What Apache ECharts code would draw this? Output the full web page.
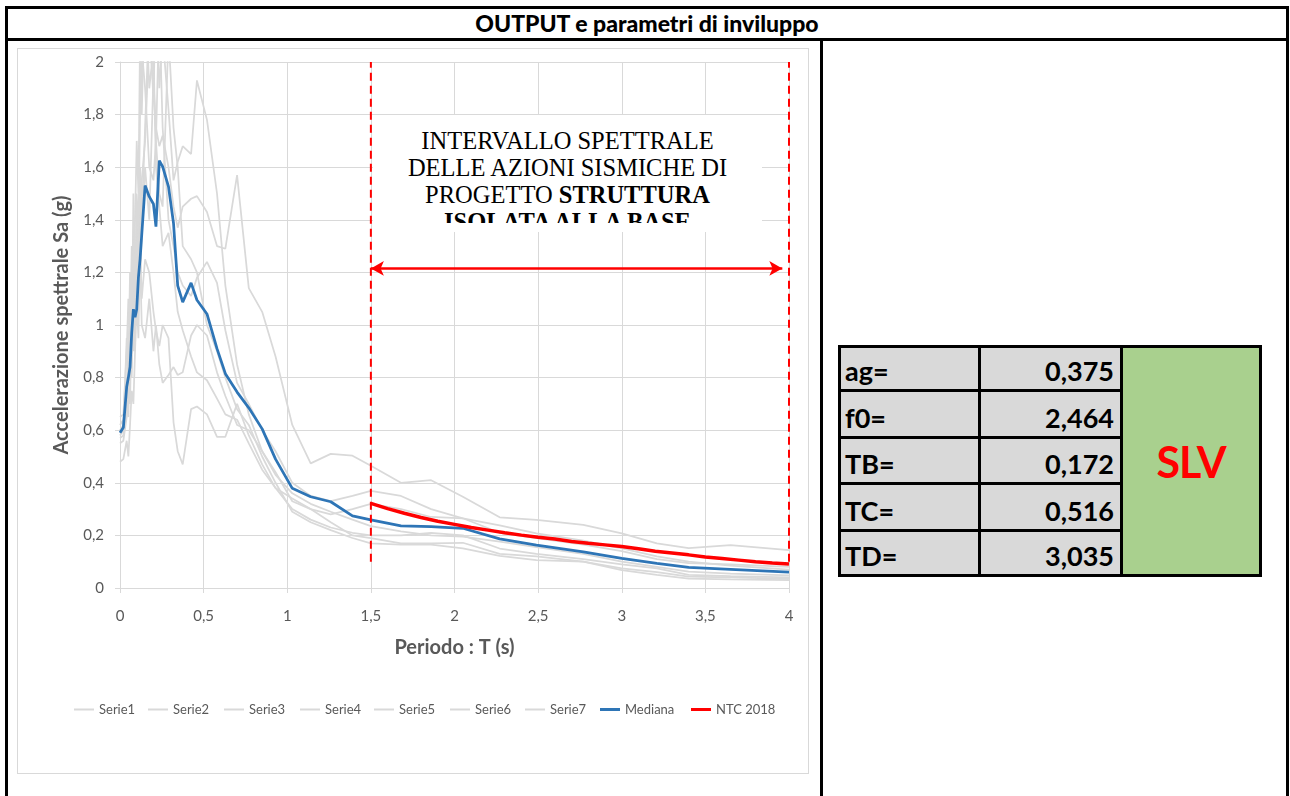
<!DOCTYPE html>
<html>
<head>
<meta charset="utf-8">
<title>OUTPUT e parametri di inviluppo</title>
<script src="https://cdn.jsdelivr.net/npm/echarts@6.0.0/dist/echarts.min.js"></script>
<style>
  html, body { margin:0; padding:0; background:#ffffff; }
  body { position:relative; width:1290px; height:796px; overflow:hidden; font-family: Lato, "Noto Sans", sans-serif; }
  .rule { position:absolute; background:#000; }
  #title { position:absolute; left:8px; top:9px; width:1278px; height:29px; line-height:29px; text-align:center; font-weight:900; font-size:23px; color:#000; }
  #chartFrame { position:absolute; left:17px; top:48px; width:792px; height:726px; border:1px solid #D9D9D9; box-sizing:border-box; }
  #chart { position:absolute; left:0; top:0; width:1290px; height:796px; }
  #note { position:absolute; left:373px; top:115px; width:389px; height:117px; background:#fff; }
  #noteClip { position:absolute; left:0; top:0; width:100%; height:108px; overflow:hidden; }
  #noteText { padding-top:12px; text-align:center; font-family:"Liberation Serif","Times New Roman",serif; font-size:24.5px; line-height:27px; color:#000; white-space:nowrap; }
  #table { position:absolute; left:838px; top:345px; width:424px; height:232px; background:#000; }
  .cell { position:absolute; background:#D9D9D9; font-weight:bold; font-size:27px; line-height:27px; color:#000; box-sizing:border-box; display:flex; align-items:flex-end; padding-bottom:5px; }
  .lab { padding-left:4px; justify-content:flex-start; }
  .num { padding-right:6px; justify-content:flex-end; }
  #slv { position:absolute; left:285px; top:3px; width:136px; height:226px; background:#A9D08E; color:#FF0000; font-weight:bold; font-size:43px; display:flex; align-items:center; justify-content:center; letter-spacing:-1px; }
</style>
</head>
<body>
<div class="rule" style="left:5px;top:6px;width:1284px;height:3px;"></div>
<div class="rule" style="left:5px;top:38px;width:1284px;height:3px;"></div>
<div class="rule" style="left:5px;top:6px;width:3px;height:790px;"></div>
<div class="rule" style="left:1286px;top:6px;width:3px;height:790px;"></div>
<div class="rule" style="left:820px;top:40px;width:3px;height:756px;"></div>
<div id="title">OUTPUT e parametri di inviluppo</div>
<div id="chartFrame"></div>
<div id="chart"></div>
<div id="note"><div id="noteClip"><div id="noteText">INTERVALLO SPETTRALE<br>DELLE AZIONI SISMICHE DI<br>PROGETTO <b>STRUTTURA</b><br><b>ISOLATA ALLA BASE</b></div></div></div>
<div id="table"></div>
<script>
// ---------- data ----------
const periods = [0, 0.02, 0.04, 0.05, 0.06, 0.07, 0.08, 0.09, 0.10, 0.11, 0.12, 0.13, 0.15, 0.175, 0.2, 0.215, 0.235, 0.255, 0.29, 0.32, 0.345, 0.375, 0.425, 0.46, 0.52, 0.58, 0.63, 0.70, 0.77, 0.85, 0.93, 1.03, 1.14, 1.26, 1.39, 1.5, 1.68, 1.86, 2.05, 2.27, 2.49, 2.77, 3.0, 3.21, 3.4, 3.65, 4.0];

const serie1 = [0.57, 0.58, 0.70, 0.65, 0.95, 0.80, 1.10, 0.90, 1.35, 1.20, 1.60, 1.40, 1.75, 2.20, 1.85, 2.30, 1.90, 2.10, 1.82, 1.55, 1.62, 1.68, 1.65, 1.93, 1.78, 1.50, 1.15, 0.85, 0.66, 0.52, 0.43, 0.36, 0.32, 0.29, 0.26, 0.235, 0.215, 0.20, 0.195, 0.176, 0.155, 0.13, 0.10, 0.08, 0.062, 0.055, 0.048];
const serie2 = [0.60, 0.62, 0.75, 0.90, 0.85, 1.10, 0.95, 1.20, 1.25, 1.40, 1.30, 1.55, 1.70, 2.10, 1.90, 1.75, 1.68, 1.72, 1.60, 1.45, 1.37, 1.45, 1.48, 1.49, 1.43, 1.30, 1.29, 1.57, 1.14, 1.05, 0.88, 0.62, 0.474, 0.51, 0.503, 0.465, 0.40, 0.41, 0.347, 0.269, 0.259, 0.24, 0.208, 0.17, 0.152, 0.163, 0.144];
const serie3 = [0.48, 0.49, 0.56, 0.50, 0.62, 0.75, 0.70, 0.90, 1.10, 0.95, 1.30, 1.10, 1.25, 1.20, 1.05, 0.98, 0.92, 1.00, 0.95, 0.63, 0.52, 0.47, 0.68, 0.69, 0.66, 0.575, 0.575, 0.70, 0.58, 0.47, 0.38, 0.34, 0.30, 0.25, 0.20, 0.19, 0.17, 0.17, 0.172, 0.13, 0.12, 0.10, 0.075, 0.06, 0.043, 0.04, 0.035];
const serie4 = [0.55, 0.56, 0.65, 0.80, 0.70, 1.05, 0.90, 1.10, 1.00, 1.25, 1.15, 1.35, 1.60, 1.40, 1.95, 1.70, 2.20, 1.75, 1.40, 1.30, 1.20, 1.15, 1.11, 1.18, 1.24, 1.16, 0.98, 0.78, 0.70, 0.60, 0.52, 0.40, 0.35, 0.33, 0.35, 0.369, 0.35, 0.30, 0.265, 0.238, 0.208, 0.18, 0.151, 0.12, 0.10, 0.085, 0.07];
const serie5 = [0.62, 0.64, 0.80, 0.70, 1.10, 0.90, 1.50, 1.20, 1.00, 1.40, 1.25, 1.00, 0.95, 1.10, 0.90, 1.00, 0.85, 0.78, 0.81, 0.84, 0.81, 0.82, 0.96, 1.00, 0.96, 0.82, 0.73, 0.62, 0.60, 0.52, 0.44, 0.33, 0.30, 0.28, 0.30, 0.32, 0.30, 0.27, 0.265, 0.21, 0.19, 0.165, 0.14, 0.11, 0.095, 0.09, 0.08];
const serie6 = [0.65, 0.66, 0.90, 1.10, 0.95, 1.30, 1.05, 1.40, 1.70, 1.50, 2.10, 1.80, 2.30, 1.90, 2.05, 1.60, 1.45, 1.30, 1.35, 1.20, 1.05, 0.98, 0.88, 0.82, 0.79, 0.72, 0.66, 0.64, 0.55, 0.45, 0.38, 0.30, 0.26, 0.23, 0.21, 0.20, 0.20, 0.21, 0.20, 0.15, 0.13, 0.11, 0.09, 0.075, 0.05, 0.045, 0.04];
const serie7 = [0.58, 0.60, 0.95, 0.85, 1.20, 1.00, 1.30, 1.10, 1.50, 1.35, 1.80, 2.05, 1.90, 1.60, 1.55, 1.70, 1.50, 1.45, 2.10, 1.75, 1.60, 1.30, 1.25, 1.20, 1.00, 0.90, 0.80, 0.68, 0.62, 0.50, 0.40, 0.29, 0.25, 0.22, 0.19, 0.17, 0.165, 0.165, 0.151, 0.122, 0.106, 0.10, 0.068, 0.05, 0.036, 0.033, 0.03];
const mediana = [0.59, 0.61, 0.765, 0.80, 0.84, 0.97, 1.06, 1.03, 1.06, 1.18, 1.25, 1.247, 1.53, 1.488, 1.46, 1.374, 1.625, 1.602, 1.526, 1.387, 1.15, 1.087, 1.16, 1.095, 1.042, 0.91, 0.815, 0.745, 0.685, 0.605, 0.49, 0.379, 0.347, 0.328, 0.274, 0.259, 0.236, 0.233, 0.227, 0.187, 0.163, 0.137, 0.113, 0.094, 0.078, 0.071, 0.06];

const ntcPeriods = [1.5, 1.6, 1.7, 1.8, 1.9, 2.0, 2.1, 2.2, 2.3, 2.4, 2.5, 2.6, 2.7, 2.8, 2.9, 3.0, 3.1, 3.2, 3.3, 3.4, 3.5, 3.6, 3.7, 3.8, 3.9, 4.0];
const ntcValues  = [0.322, 0.302, 0.284, 0.268, 0.254, 0.242, 0.230, 0.220, 0.210, 0.201, 0.193, 0.186, 0.177, 0.170, 0.164, 0.158, 0.149, 0.140, 0.133, 0.126, 0.118, 0.112, 0.106, 0.100, 0.095, 0.091];

const grayNames = ['Serie1', 'Serie2', 'Serie3', 'Serie4', 'Serie5', 'Serie6', 'Serie7'];
const grayValues = [serie1, serie2, serie3, serie4, serie5, serie6, serie7];
const legendNames = ['Serie1', 'Serie2', 'Serie3', 'Serie4', 'Serie5', 'Serie6', 'Serie7', 'Mediana', 'NTC 2018'];

const intervalBounds = [1.5, 4];      // spectral interval limits (s)
const intervalSpan = [0.1, 2];        // vertical extent of the dashed limits (g)
const arrowEnds = [1.5, 3.96];        // double arrow ends (s)
const arrowLevel = 1.215;             // double arrow level (g)

const tableLabels = ['ag=', 'f0=', 'TB=', 'TC=', 'TD='];
const tableValues = ['0,375', '2,464', '0,172', '0,516', '3,035'];
const stateLabel = 'SLV';

// ---------- table ----------
(function buildTable(){
  const t = document.getElementById('table');
  const rowTops = [3, 47, 94, 140, 187];
  const rowHeights = [41, 44, 43, 44, 42];
  tableLabels.forEach((lab, i) => {
    const a = document.createElement('div');
    a.className = 'cell lab';
    a.style.cssText = 'left:3px;width:137px;top:' + rowTops[i] + 'px;height:' + rowHeights[i] + 'px;';
    a.textContent = lab;
    t.appendChild(a);
    const b = document.createElement('div');
    b.className = 'cell num';
    b.style.cssText = 'left:143px;width:139px;top:' + rowTops[i] + 'px;height:' + rowHeights[i] + 'px;';
    b.textContent = tableValues[i];
    t.appendChild(b);
  });
  const s = document.createElement('div');
  s.id = 'slv';
  s.textContent = stateLabel;
  t.appendChild(s);
})();

// ---------- chart ----------
const chart = echarts.init(document.getElementById('chart'), null, { renderer: 'canvas' });
const fmt = v => String(+(+v).toFixed(2)).replace('.', ',');
const FONT = 'Lato, "Noto Sans", sans-serif';
const grid = '#D9D9D9';
const txt = '#595959';

const series = [];
grayValues.forEach((vals, i) => {
  series.push({
    name: grayNames[i], type: 'line', symbol: 'none', silent: true, z: 2,
    data: periods.map((t, j) => [t, vals[j]]),
    lineStyle: { color: '#D9D9D9', width: 1.75 }, itemStyle: { color: '#D9D9D9' }
  });
});
series.push({
  name: 'Mediana', type: 'line', symbol: 'none', silent: true, z: 4,
  data: periods.map((t, j) => [t, mediana[j]]),
  lineStyle: { color: '#2E75B6', width: 2.75 }, itemStyle: { color: '#2E75B6' }
});
series.push({
  name: 'NTC 2018', type: 'line', symbol: 'none', silent: true, z: 5,
  data: ntcPeriods.map((t, j) => [t, ntcValues[j]]),
  lineStyle: { color: '#FF0000', width: 3.5 }, itemStyle: { color: '#FF0000' }
});
intervalBounds.forEach((b, k) => {
  const s = {
    name: 'limite' + k, type: 'line', symbol: 'none', silent: true, z: 6,
    data: [[b, intervalSpan[0]], [b, intervalSpan[1]]],
    lineStyle: { color: '#FF0000', width: 2, type: [8, 5] }, itemStyle: { color: '#FF0000' }
  };
  if (k === 0) {
    s.markLine = {
      silent: true, symbol: ['arrow', 'arrow'], symbolSize: [11, 13],
      label: { show: false },
      lineStyle: { color: '#FF0000', width: 2.5, type: 'solid' },
      data: [[{ coord: [arrowEnds[0], arrowLevel] }, { coord: [arrowEnds[1], arrowLevel] }]]
    };
  }
  series.push(s);
});

const legendLefts = [69, 143, 219, 295, 369, 445, 520, 595, 686];
const legendThick = [2, 2, 2, 2, 2, 2, 2, 3, 3];
const legends = legendNames.map((n, i) => ({
  data: [n], left: legendLefts[i], top: 698, icon: 'rect',
  itemWidth: 20, itemHeight: legendThick[i], itemGap: 0,
  selectedMode: false, textStyle: { color: txt, fontSize: 13, fontFamily: FONT, padding: [0, 0, 0, 0] }
}));

chart.setOption({
  animation: false,
  backgroundColor: 'transparent',
  textStyle: { fontFamily: FONT },
  grid: { left: 120, top: 62, width: 669, height: 526, containLabel: false },
  legend: legends,
  xAxis: {
    type: 'value', min: 0, max: 4, interval: 0.5,
    name: 'Periodo : T (s)', nameLocation: 'middle', nameGap: 50,
    nameTextStyle: { color: txt, fontSize: 20, fontWeight: 'bold', fontFamily: FONT },
    axisLine: { show: true, onZero: false, lineStyle: { color: grid, width: 1 } },
    axisTick: { show: true, length: 5, lineStyle: { color: grid } },
    splitLine: { show: true, lineStyle: { color: grid, width: 1 } },
    axisLabel: { color: txt, fontSize: 15, margin: 21, formatter: fmt, fontFamily: FONT }
  },
  yAxis: {
    type: 'value', min: 0, max: 2, interval: 0.2,
    name: 'Accelerazione spettrale Sa (g)', nameLocation: 'middle', nameGap: 48, nameRotate: 90,
    nameTextStyle: { color: txt, fontSize: 20, fontWeight: 'bold', fontFamily: FONT },
    axisLine: { show: true, lineStyle: { color: grid, width: 1 } },
    axisTick: { show: true, length: 5, lineStyle: { color: grid } },
    splitLine: { show: true, lineStyle: { color: grid, width: 1 } },
    axisLabel: { color: txt, fontSize: 15, margin: 16, formatter: fmt, fontFamily: FONT }
  },
  series: series
});
</script>
</body>
</html>
